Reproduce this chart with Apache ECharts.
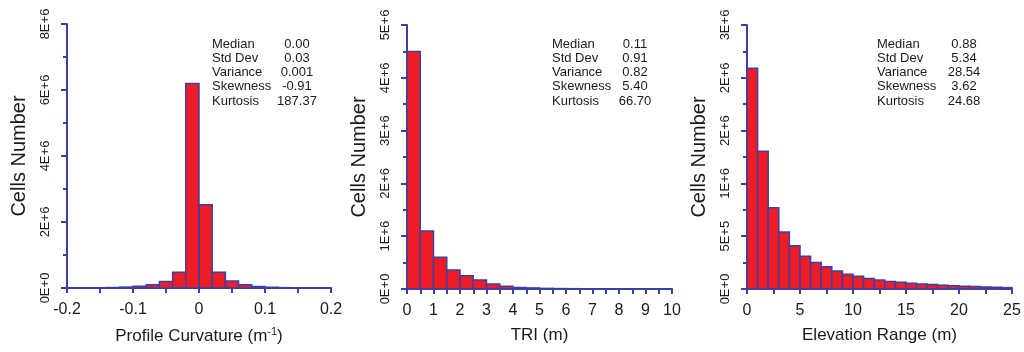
<!DOCTYPE html>
<html>
<head>
<meta charset="utf-8">
<script src="https://cdn.jsdelivr.net/npm/echarts@6/dist/echarts.min.js"></script>
<style>
  html, body { margin: 0; padding: 0; background: #fff; }
  #chart { width: 1024px; height: 352px; }
</style>
</head>
<body>
<div id="chart"></div>
<script>
// bin lower edges + counts
const curvEdges = [-0.2, -0.18, -0.16, -0.14, -0.12, -0.1, -0.08, -0.06, -0.04, -0.02, 0, 0.02, 0.04, 0.06, 0.08, 0.1, 0.12, 0.14, 0.16, 0.18];
const curvCounts = [3000, 5000, 9000, 15000, 28000, 50000, 100000, 200000, 480000, 6200000, 2520000, 480000, 210000, 100000, 45000, 22000, 11000, 6000, 3000, 2000];
const curvBin = 0.02;

const triEdges = [0, 0.5, 1, 1.5, 2, 2.5, 3, 3.5, 4, 4.5, 5, 5.5, 6, 6.5, 7, 7.5, 8, 8.5, 9, 9.5];
const triCounts = [4500000, 1100000, 600000, 360000, 250000, 170000, 95000, 50000, 30000, 20000, 12000, 8000, 6000, 4000, 3000, 2000, 1500, 1000, 800, 500];
const triBin = 0.5;

const elevEdges = [0, 1, 2, 3, 4, 5, 6, 7, 8, 9, 10, 11, 12, 13, 14, 15, 16, 17, 18, 19, 20, 21, 22, 23, 24];
const elevCounts = [2090000, 1305000, 770000, 540000, 410000, 310000, 250000, 210000, 170000, 140000, 120000, 100000, 85000, 72000, 63000, 55000, 48000, 42000, 36000, 31000, 27000, 23000, 20000, 16000, 13000];
const elevBin = 1;

// tick labels
const curvXLabels = ['-0.2', '-0.1', '0', '0.1', '0.2'];
const curvYLabels = ['0E+0', '2E+6', '4E+6', '6E+6', '8E+6'];
const triXLabels = ['0', '1', '2', '3', '4', '5', '6', '7', '8', '9', '10'];
const triYLabels = ['0E+0', '1E+6', '2E+6', '3E+6', '4E+6', '5E+6'];
const elevXLabels = ['0', '5', '10', '15', '20', '25'];
const elevYLabels = ['0E+0', '5E+5', '1E+6', '2E+6', '2E+6', '3E+6'];

// summary statistics
const statNames = ['Median', 'Std Dev', 'Variance', 'Skewness', 'Kurtosis'];
const curvStats = ['0.00', '0.03', '0.001', '-0.91', '187.37'];
const triStats = ['0.11', '0.91', '0.82', '5.40', '66.70'];
const elevStats = ['0.88', '5.34', '28.54', '3.62', '24.68'];

const AXIS = '#3a40a8';
const BAR = '#ee1c24';
const TXT = '#1a1a1a';
const FONT = 'Liberation Sans, Arial, sans-serif';

const chart = echarts.init(document.getElementById('chart'));

function histData(edges, counts, w) {
  return edges.map((e, i) => [e, e + w, counts[i]]);
}

function labelFrom(labels, min, step) {
  return (v) => labels[Math.round((v - min) / step)] ?? '';
}

function xAxisFor(idx, min, max, step, labels, name) {
  return {
    type: 'value', gridIndex: idx, min, max, interval: step,
    name, nameLocation: 'middle', nameGap: 38,
    nameTextStyle: {
      color: TXT, fontSize: 17, fontFamily: FONT,
      rich: { sup: { fontSize: 11, color: TXT, fontFamily: FONT, padding: [0, 0, 9, 0] } }
    },
    axisLine: { show: true, onZero: false, lineStyle: { color: AXIS, width: 2 } },
    axisTick: { show: true, length: 5, lineStyle: { color: AXIS, width: 2 } },
    minorTick: { show: true, splitNumber: 2, length: 5, lineStyle: { color: AXIS, width: 2 } },
    splitLine: { show: false },
    axisLabel: { color: TXT, fontSize: 16, fontFamily: FONT, margin: 14, formatter: labelFrom(labels, min, step) }
  };
}

function yAxisFor(idx, max, step, labels) {
  return {
    type: 'value', gridIndex: idx, min: 0, max, interval: step,
    name: 'Cells Number', nameLocation: 'middle', nameGap: 38, nameRotate: 90,
    nameTextStyle: { color: TXT, fontSize: 20, fontFamily: FONT },
    axisLine: { show: true, onZero: false, lineStyle: { color: AXIS, width: 2 } },
    axisTick: { show: true, length: 6, lineStyle: { color: AXIS, width: 2 } },
    minorTick: { show: true, splitNumber: 2, length: 4, lineStyle: { color: AXIS, width: 2 } },
    splitLine: { show: false },
    axisLabel: { color: TXT, fontSize: 13, fontFamily: FONT, rotate: 90, margin: 15, formatter: labelFrom(labels, 0, step) }
  };
}

function histSeries(idx, data) {
  return {
    type: 'custom', xAxisIndex: idx, yAxisIndex: idx,
    data,
    renderItem: (params, api) => {
      const p0 = api.coord([api.value(0), api.value(2)]);
      const p1 = api.coord([api.value(1), 0]);
      return {
        type: 'rect',
        shape: { x: p0[0], y: p0[1], width: p1[0] - p0[0], height: p1[1] - p0[1] },
        style: { fill: BAR, stroke: AXIS, lineWidth: 1.5 }
      };
    }
  };
}

function statsBlock(left, valCenter, values) {
  const out = [];
  statNames.forEach((n, i) => {
    const y = 44 + i * 14.3;
    out.push({ type: 'text', x: left, y, style: { text: n, fill: TXT, font: '13px ' + FONT, textAlign: 'left', textVerticalAlign: 'middle' } });
    out.push({ type: 'text', x: valCenter, y, style: { text: values[i], fill: TXT, font: '13px ' + FONT, textAlign: 'center', textVerticalAlign: 'middle' } });
  });
  return out;
}

chart.setOption({
  backgroundColor: '#fff',
  animation: false,
  grid: [
    { left: 67, top: 24, width: 264, height: 264 },
    { left: 407, top: 25, width: 265, height: 264 },
    { left: 747, top: 25, width: 265, height: 264 }
  ],
  xAxis: [
    xAxisFor(0, -0.2, 0.2, 0.1, curvXLabels, 'Profile Curvature (m{sup|-1})'),
    xAxisFor(1, 0, 10, 1, triXLabels, 'TRI (m)'),
    xAxisFor(2, 0, 25, 5, elevXLabels, 'Elevation Range (m)')
  ],
  yAxis: [
    yAxisFor(0, 8000000, 2000000, curvYLabels),
    yAxisFor(1, 5000000, 1000000, triYLabels),
    yAxisFor(2, 2500000, 500000, elevYLabels)
  ],
  series: [
    histSeries(0, histData(curvEdges, curvCounts, curvBin)),
    histSeries(1, histData(triEdges, triCounts, triBin)),
    histSeries(2, histData(elevEdges, elevCounts, elevBin))
  ],
  graphic: [
    ...statsBlock(212, 297, curvStats),
    ...statsBlock(552, 635, triStats),
    ...statsBlock(877, 964, elevStats)
  ]
});
</script>
</body>
</html>
